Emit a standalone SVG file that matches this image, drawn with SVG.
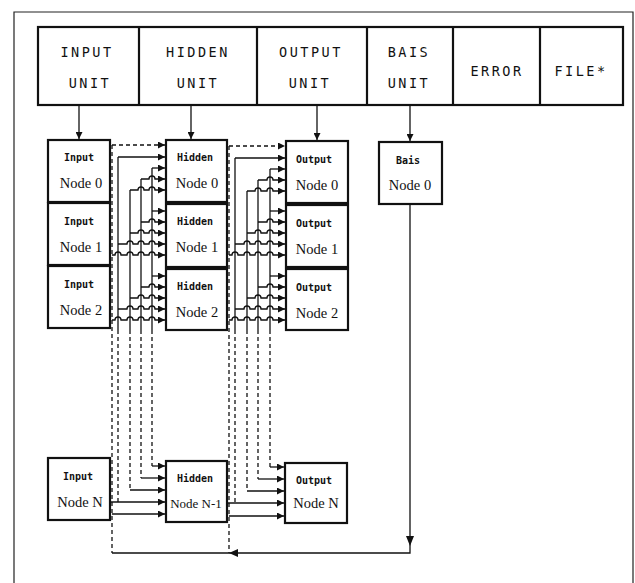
<svg xmlns="http://www.w3.org/2000/svg" width="635" height="583" viewBox="0 0 635 583">
<style>
.frame{fill:none;stroke:#222;stroke-width:1.2}
.box{fill:#fff;stroke:#111;stroke-width:2.2}
.hdr{font-family:"DejaVu Sans Mono","Liberation Mono",monospace;font-size:13.5px;letter-spacing:2.5px;text-anchor:middle;fill:#111}
.lbl{font-family:"DejaVu Sans Mono","Liberation Mono",monospace;font-size:10px;font-weight:bold;text-anchor:middle;fill:#111}
.nd{font-family:"Liberation Serif","DejaVu Serif",serif;font-size:14.5px;text-anchor:middle;fill:#111}
.nds{font-size:13px}
.w{fill:none;stroke:#111;stroke-width:1.3}
.d{fill:none;stroke:#111;stroke-width:1.3;stroke-dasharray:4 3}
.a{fill:none;stroke:#111;stroke-width:1.3;marker-end:url(#ah)}
.ad{fill:none;stroke:#111;stroke-width:1.3;stroke-dasharray:4 3;marker-end:url(#ah)}
.tri{fill:#111}
</style>
<defs>
<marker id="ah" markerWidth="7" markerHeight="7" refX="7" refY="3.5" orient="auto" markerUnits="userSpaceOnUse"><path d="M0,0 L7,3.5 L0,7 z" fill="#111"/></marker>
</defs>
<rect width="635" height="583" fill="#fff"/>
<path class="frame" d="M14,583 V12 H633 V583"/>

<g id="header">
<rect class="box" x="38" y="27" width="585" height="78"/>
<path class="box" d="M139,27 V105 M257,27 V105 M367,27 V105 M453,27 V105 M540,27 V105"/>
<text class="hdr" x="87" y="57">INPUT</text><text class="hdr" x="90" y="88">UNIT</text>
<text class="hdr" x="198" y="57">HIDDEN</text><text class="hdr" x="198" y="88">UNIT</text>
<text class="hdr" x="311" y="57">OUTPUT</text><text class="hdr" x="310" y="88">UNIT</text>
<text class="hdr" x="409" y="57">BAIS</text><text class="hdr" x="409" y="88">UNIT</text>
<text class="hdr" x="497" y="76">ERROR</text>
<text class="hdr" x="581" y="76">FILE*</text>
</g>

<g id="input0"><rect class="box" x="48" y="140" width="62" height="62"/><text class="lbl" x="79" y="161">Input</text><text class="nd" x="81" y="188">Node 0</text></g>
<g id="input1"><rect class="box" x="48" y="203" width="62" height="62"/><text class="lbl" x="79" y="225">Input</text><text class="nd" x="81" y="252">Node 1</text></g>
<g id="input2"><rect class="box" x="48" y="266" width="62" height="62"/><text class="lbl" x="79" y="288">Input</text><text class="nd" x="81" y="315">Node 2</text></g>
<g id="inputN"><rect class="box" x="48" y="458" width="62" height="62"/><text class="lbl" x="78" y="480">Input</text><text class="nd" x="80" y="507">Node N</text></g>

<g id="hidden0"><rect class="box" x="166" y="140" width="61" height="62"/><text class="lbl" x="195" y="161">Hidden</text><text class="nd" x="197" y="188">Node 0</text></g>
<g id="hidden1"><rect class="box" x="166" y="204" width="61" height="63"/><text class="lbl" x="195" y="225">Hidden</text><text class="nd" x="197" y="252">Node 1</text></g>
<g id="hidden2"><rect class="box" x="166" y="269" width="61" height="61"/><text class="lbl" x="195" y="290">Hidden</text><text class="nd" x="197" y="317">Node 2</text></g>
<g id="hiddenN1"><rect class="box" x="166" y="461" width="61" height="61"/><text class="lbl" x="195" y="482">Hidden</text><text class="nd nds" x="196" y="508">Node N-1</text></g>

<g id="output0"><rect class="box" x="286" y="141" width="62" height="62"/><text class="lbl" x="314" y="163">Output</text><text class="nd" x="317" y="190">Node 0</text></g>
<g id="output1"><rect class="box" x="286" y="205" width="62" height="62"/><text class="lbl" x="314" y="227">Output</text><text class="nd" x="317" y="254">Node 1</text></g>
<g id="output2"><rect class="box" x="286" y="269" width="62" height="61"/><text class="lbl" x="314" y="291">Output</text><text class="nd" x="317" y="318">Node 2</text></g>
<g id="outputN"><rect class="box" x="285" y="463" width="62" height="60"/><text class="lbl" x="314" y="484">Output</text><text class="nd" x="316" y="508">Node N</text></g>

<g id="bais0"><rect class="box" x="379" y="142" width="63" height="62"/><text class="lbl" x="408" y="164">Bais</text><text class="nd" x="410" y="190">Node 0</text></g>

<g id="connectors">
<path class="a" d="M79,105 V139"/>
<path class="a" d="M191,105 V139"/>
<path class="a" d="M317,105 V140"/>
<path class="a" d="M410,105 V141"/>

<path class="w" d="M410,204 V553 H112"/>
<polygon class="tri" points="406,536 414,536 410,546"/>
<polygon class="tri" points="229,553 238,549 238,557"/>

<path class="d" d="M112,145 V553"/>
<path class="w" d="M118,157 V330"/><path class="d" d="M118,330 V502"/>
<path class="w" d="M130,190 V330"/><path class="d" d="M130,330 V490"/>
<path class="w" d="M141,179 V330"/><path class="d" d="M141,330 V478"/>
<path class="w" d="M152,168 V330"/><path class="d" d="M152,330 V466"/>

<path class="ad" d="M112,145 H165"/>
<path class="a" d="M118,157 H165"/>
<path class="a" d="M152,168 H165"/>
<path class="a" d="M141,179 H149 A3,3 0 0 1 155,179 H165"/>
<path class="a" d="M130,190 H138 A3,3 0 0 1 144,190 H149 A3,3 0 0 1 155,190 H165"/>
<path class="a" d="M152,211 H165"/>
<path class="a" d="M141,222 H149 A3,3 0 0 1 155,222 H165"/>
<path class="a" d="M130,233 H138 A3,3 0 0 1 144,233 H149 A3,3 0 0 1 155,233 H165"/>
<path class="a" d="M118,244 H127 A3,3 0 0 1 133,244 H138 A3,3 0 0 1 144,244 H149 A3,3 0 0 1 155,244 H165"/>
<path class="a" d="M112,255 H115 A3,3 0 0 1 121,255 H127 A3,3 0 0 1 133,255 H138 A3,3 0 0 1 144,255 H149 A3,3 0 0 1 155,255 H165"/>
<path class="a" d="M152,276 H165"/>
<path class="a" d="M141,287 H149 A3,3 0 0 1 155,287 H165"/>
<path class="a" d="M130,298 H138 A3,3 0 0 1 144,298 H149 A3,3 0 0 1 155,298 H165"/>
<path class="a" d="M118,309 H127 A3,3 0 0 1 133,309 H138 A3,3 0 0 1 144,309 H149 A3,3 0 0 1 155,309 H165"/>
<path class="a" d="M112,320 H115 A3,3 0 0 1 121,320 H127 A3,3 0 0 1 133,320 H138 A3,3 0 0 1 144,320 H149 A3,3 0 0 1 155,320 H165"/>
<path class="a" d="M152,466 H165"/>
<path class="a" d="M141,478 H165"/>
<path class="a" d="M130,490 H165"/>
<path class="a" d="M110,502 H165"/>
<path class="a" d="M112,514 H165"/>

<path class="d" d="M229,146 V553"/>
<path class="w" d="M235,158 V330"/><path class="d" d="M235,330 V503"/>
<path class="w" d="M247,191 V330"/><path class="d" d="M247,330 V491"/>
<path class="w" d="M258,180 V330"/><path class="d" d="M258,330 V479"/>
<path class="w" d="M270,169 V330"/><path class="d" d="M270,330 V467"/>

<path class="ad" d="M229,146 H285"/>
<path class="a" d="M235,158 H285"/>
<path class="a" d="M270,169 H285"/>
<path class="a" d="M258,180 H267 A3,3 0 0 1 273,180 H285"/>
<path class="a" d="M247,191 H255 A3,3 0 0 1 261,191 H267 A3,3 0 0 1 273,191 H285"/>
<path class="a" d="M270,211 H285"/>
<path class="a" d="M258,222 H267 A3,3 0 0 1 273,222 H285"/>
<path class="a" d="M247,233 H255 A3,3 0 0 1 261,233 H267 A3,3 0 0 1 273,233 H285"/>
<path class="a" d="M235,244 H244 A3,3 0 0 1 250,244 H255 A3,3 0 0 1 261,244 H267 A3,3 0 0 1 273,244 H285"/>
<path class="a" d="M229,255 H232 A3,3 0 0 1 238,255 H244 A3,3 0 0 1 250,255 H255 A3,3 0 0 1 261,255 H267 A3,3 0 0 1 273,255 H285"/>
<path class="a" d="M270,276 H285"/>
<path class="a" d="M258,287 H267 A3,3 0 0 1 273,287 H285"/>
<path class="a" d="M247,298 H255 A3,3 0 0 1 261,298 H267 A3,3 0 0 1 273,298 H285"/>
<path class="a" d="M235,309 H244 A3,3 0 0 1 250,309 H255 A3,3 0 0 1 261,309 H267 A3,3 0 0 1 273,309 H285"/>
<path class="a" d="M229,320 H232 A3,3 0 0 1 238,320 H244 A3,3 0 0 1 250,320 H255 A3,3 0 0 1 261,320 H267 A3,3 0 0 1 273,320 H285"/>
<path class="a" d="M270,467 H284"/>
<path class="a" d="M258,479 H284"/>
<path class="a" d="M247,491 H284"/>
<path class="a" d="M227,503 H284"/>
<path class="a" d="M229,516 H284"/>
</g>
</svg>
